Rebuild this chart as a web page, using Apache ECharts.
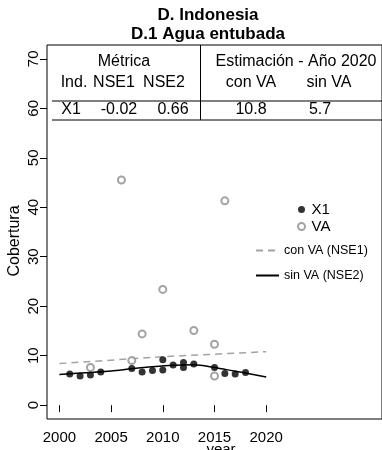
<!DOCTYPE html>
<html>
<head>
<meta charset="utf-8">
<script src="https://cdn.jsdelivr.net/npm/echarts@6/dist/echarts.min.js"></script>
<style>html,body{margin:0;padding:0;background:#fff;}#c{width:382px;height:450px;}</style>
</head>
<body>
<div id="c"></div>
<script>
// ---- data ----
const titleLines = ['D. Indonesia', 'D.1 Agua entubada'];
const x1Years = [2001, 2002, 2003, 2004, 2007, 2008, 2009, 2010, 2010, 2011, 2012, 2012, 2013, 2015, 2016, 2017, 2018];
const x1Values = [6.3, 5.9, 6.1, 6.7, 7.4, 6.7, 7.0, 9.2, 7.1, 8.1, 8.6, 7.6, 8.3, 7.6, 6.4, 6.3, 6.6];
const vaYears = [2003, 2006, 2007, 2008, 2010, 2013, 2015, 2015, 2016];
const vaValues = [7.6, 45.5, 9.0, 14.4, 23.4, 15.1, 12.3, 5.9, 41.3];
const conVaYears = [2000, 2010, 2020];
const conVaValues = [8.4, 9.8, 10.8];
const sinVaYears = [2000, 2003, 2005, 2007, 2009, 2011, 2013, 2015, 2017, 2018, 2020];
const sinVaValues = [6.2, 6.6, 6.9, 7.35, 7.75, 8.05, 8.15, 7.6, 6.85, 6.5, 5.7];
const xTicks = [2000, 2005, 2010, 2015, 2020];
const yTicks = [0, 10, 20, 30, 40, 50, 60, 70];
const tableHeader1 = ['Métrica', 'Estimación - Año 2020'];
const tableHeader2 = ['Ind.', 'NSE1', 'NSE2', 'con VA', 'sin VA'];
const tableRow = ['X1', '-0.02', '0.66', '10.8', '5.7'];
const seriesNames = ['X1', 'VA', 'con VA (NSE1)', 'sin VA (NSE2)'];
const axisNames = { x: 'year', y: 'Cobertura' };

// ---- layout ----
const FONT = '"Liberation Sans", Arial, Helvetica, sans-serif';
const zip = (a, b) => a.map((v, i) => [v, b[i]]);
const chart = echarts.init(document.getElementById('c'), null, { renderer: 'canvas' });

const h1X = [124, 296];
const h2X = [74, 114, 164, 251, 329];
const rX = [71, 119, 173, 251, 320];
const tf = { fontFamily: FONT, fontSize: 16, fill: '#000' };
const graphics = [];
titleLines.forEach((t, i) => graphics.push({
  type: 'text', x: 208, y: i === 0 ? 15.5 : 34, z: 10,
  style: { text: t, fontFamily: FONT, fontSize: 17, fontWeight: 'bold', fill: '#000', align: 'center', verticalAlign: 'middle' }
}));
tableHeader1.forEach((t, i) => graphics.push({ type: 'text', x: h1X[i], y: 61.2, z: 10, style: Object.assign({ text: t, align: 'center', verticalAlign: 'middle' }, tf) }));
tableHeader2.forEach((t, i) => graphics.push({ type: 'text', x: h2X[i], y: 82.8, z: 10, style: Object.assign({ text: t, align: 'center', verticalAlign: 'middle' }, tf) }));
tableRow.forEach((t, i) => graphics.push({ type: 'text', x: rX[i], y: 109.5, z: 10, style: Object.assign({ text: t, align: 'center', verticalAlign: 'middle' }, tf) }));
graphics.push({ type: 'line', z: 10, shape: { x1: 52, y1: 101, x2: 382, y2: 101 }, style: { stroke: '#000', lineWidth: 1 } });
graphics.push({ type: 'line', z: 10, shape: { x1: 52, y1: 120, x2: 382, y2: 120 }, style: { stroke: '#000', lineWidth: 1 } });
graphics.push({ type: 'line', z: 10, shape: { x1: 200.5, y1: 45, x2: 200.5, y2: 120 }, style: { stroke: '#000', lineWidth: 1 } });
graphics.push({ type: 'text', x: 15, y: 241, rotation: Math.PI / 2, z: 10,
  style: { text: axisNames.y, fontFamily: FONT, fontSize: 16, fill: '#000', align: 'center', verticalAlign: 'middle' } });
graphics.push({ type: 'text', x: 221, y: 450, z: 10,
  style: { text: axisNames.x, fontFamily: FONT, fontSize: 15, fill: '#000', align: 'center', verticalAlign: 'middle' } });

const option = {
  animation: false,
  backgroundColor: '#fff',
  grid: { left: 47, top: 45, width: 349, bottom: 31, show: true, borderColor: '#000', borderWidth: 1, backgroundColor: 'transparent' },
  xAxis: {
    type: 'value', min: 1998.8, max: 2031.2,
    axisLine: { show: false },
    splitLine: { show: false },
    axisTick: { show: true, length: 7, customValues: xTicks, lineStyle: { color: '#000' } },
    axisLabel: { customValues: xTicks, formatter: v => String(v), fontFamily: FONT, fontSize: 15, color: '#000', margin: 11 }
  },
  yAxis: {
    type: 'value', min: -2.8, max: 72.8,
    axisLine: { show: false },
    splitLine: { show: false },
    axisTick: { show: true, length: 7, customValues: yTicks, lineStyle: { color: '#000' } },
    axisLabel: { customValues: yTicks, formatter: v => String(v), rotate: 90, fontFamily: FONT, fontSize: 15, color: '#000', margin: 6 }
  },
  legend: [
    {
      data: [seriesNames[0], seriesNames[1]], orient: 'vertical', left: 292, top: 197,
      itemWidth: 10, itemHeight: 7, itemGap: 2,
      textStyle: { fontFamily: FONT, fontSize: 15, color: '#000' }
    },
    {
      data: [seriesNames[2], seriesNames[3]], orient: 'vertical', left: 250, top: 239,
      itemWidth: 23, itemHeight: 10, itemGap: 12,
      itemStyle: { opacity: 0 },
      textStyle: { fontFamily: FONT, fontSize: 12.5, color: '#000' }
    }
  ],
  graphic: graphics,
  series: [
    {
      name: seriesNames[2], type: 'line', data: zip(conVaYears, conVaValues),
      symbol: 'none', lineStyle: { color: '#a3a3a3', width: 1.5, type: [7, 5] }, itemStyle: { color: '#a3a3a3' }, z: 2
    },
    {
      name: seriesNames[3], type: 'line', data: zip(sinVaYears, sinVaValues), smooth: 0.3,
      symbol: 'none', lineStyle: { color: '#000', width: 1.5 }, itemStyle: { color: '#000' }, z: 2
    },
    {
      name: seriesNames[1], type: 'scatter', data: zip(vaYears, vaValues),
      symbol: 'emptyCircle', symbolSize: 7, itemStyle: { color: '#8c8c8c', borderColor: '#8c8c8c', borderWidth: 1 }, z: 3
    },
    {
      name: seriesNames[0], type: 'scatter', data: zip(x1Years, x1Values),
      symbol: 'circle', symbolSize: 7, itemStyle: { color: '#000' }, z: 4
    }
  ]
};
chart.setOption(option);
</script>
</body>
</html>
